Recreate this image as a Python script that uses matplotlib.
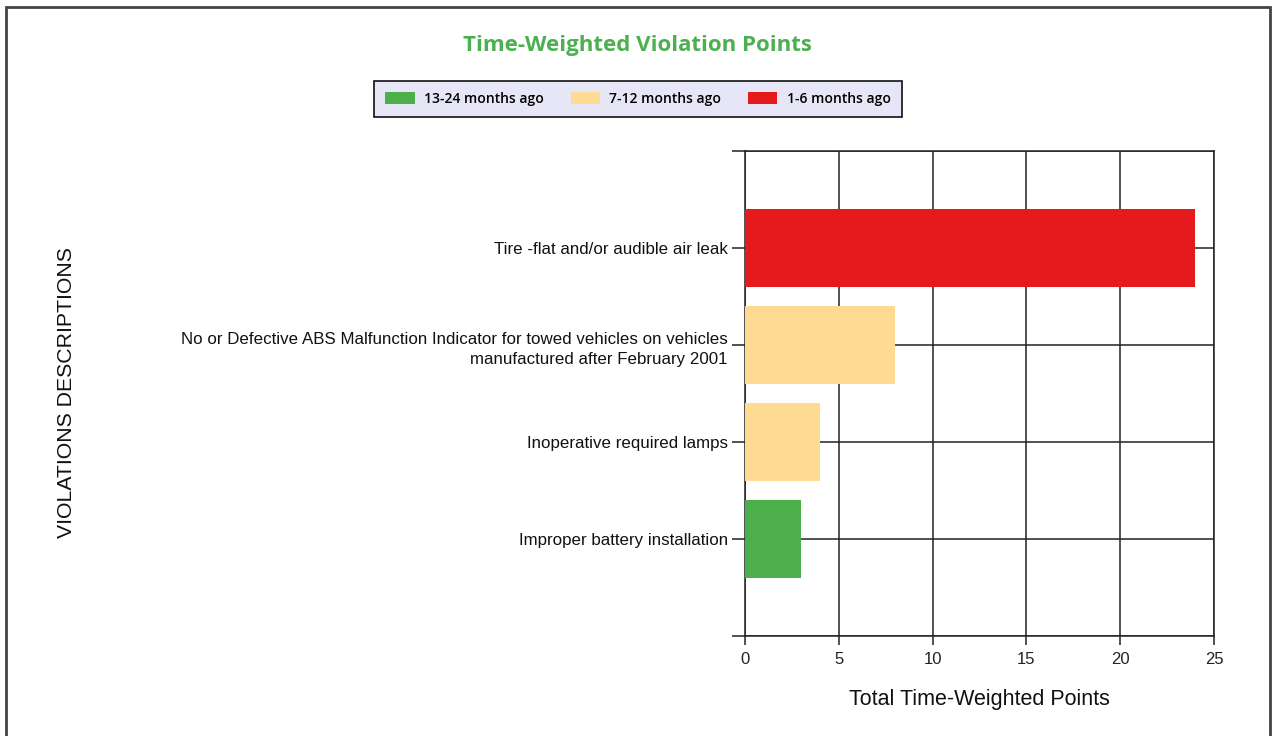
import matplotlib
matplotlib.use('Agg')
import matplotlib.pyplot as plt
from matplotlib.patches import Patch, Rectangle

# data, top to bottom
violations = [
    'Tire -flat and/or audible air leak',
    'No or Defective ABS Malfunction Indicator for towed vehicles on vehicles\nmanufactured after February 2001',
    'Inoperative required lamps',
    'Improper battery installation',
]
points = [24, 8, 4, 3]
period = ['1-6 months ago', '7-12 months ago', '7-12 months ago', '13-24 months ago']

legend_order = ['13-24 months ago', '7-12 months ago', '1-6 months ago']
period_colors = {
    '13-24 months ago': '#4DAF4A',
    '7-12 months ago': '#FFDA92',
    '1-6 months ago': '#E41A1C',
}

plt.rcParams['font.family'] = ['Liberation Sans', 'DejaVu Sans']

fig = plt.figure(figsize=(12.74, 7.36), dpi=100)
ax = fig.add_axes([0.5848, 0.1359, 0.3681, 0.6589])

n = len(violations)
ypos = list(range(n, 0, -1))
ax.barh(ypos, points, height=0.8, color=[period_colors[p] for p in period], zorder=3)

ax.set_xlim(0, 25)
ax.set_ylim(0, n + 1)
ax.set_xticks([0, 5, 10, 15, 20, 25])
ax.set_yticks(list(range(0, n + 2)))
ax.set_yticklabels([''] + violations[::-1] + [''], fontsize=12.2, color='#111111')
ax.tick_params(axis='x', labelsize=12, length=6.5, width=1.1, color='#222222', pad=5, labelcolor='#222222')
ax.tick_params(axis='y', length=9.5, width=1.1, color='#222222', pad=3)
for lbl in ax.get_yticklabels():
    lbl.set_multialignment('right')
    lbl.set_linespacing(1.45)

ax.grid(True, color='#222222', linewidth=1.1, zorder=1)
for s in ax.spines.values():
    s.set_color('#222222')
    s.set_linewidth(1.1)

ax.set_xlabel('Total Time-Weighted Points', fontsize=15.5, color='#111111', labelpad=16)
fig.text(0.052, 0.467, 'VIOLATIONS DESCRIPTIONS', rotation=90, fontsize=15.3,
         color='#111111', ha='center', va='center')

fig.text(0.5, 0.938, 'Time-Weighted Violation Points', fontsize=16, fontweight='bold',
         color='#4CAF50', ha='center', va='center', family=['Open Sans', 'DejaVu Sans'])

handles = [Patch(facecolor=period_colors[p], edgecolor='none', label=p) for p in legend_order]
leg = fig.legend(handles=handles, loc='center', bbox_to_anchor=(0.5008, 0.8655), ncol=3,
                 frameon=True, fancybox=False, edgecolor='#111111', facecolor='#E6E6F7',
                 prop={'family': ['Open Sans', 'DejaVu Sans'], 'size': 10, 'weight': 'semibold'},
                 handlelength=2.1, handleheight=0.9, handletextpad=0.7, columnspacing=1.9,
                 borderpad=0.8)
leg.get_frame().set_linewidth(1.2)
leg.get_frame().set_alpha(1)

# outer border of the image
fig.patches.append(Rectangle((6 / 1274, -0.05), 1264 / 1274, 1.05 - 7 / 736, transform=fig.transFigure,
                             fill=False, edgecolor='#444444', linewidth=2))

fig.savefig('out.png', dpi=100)
